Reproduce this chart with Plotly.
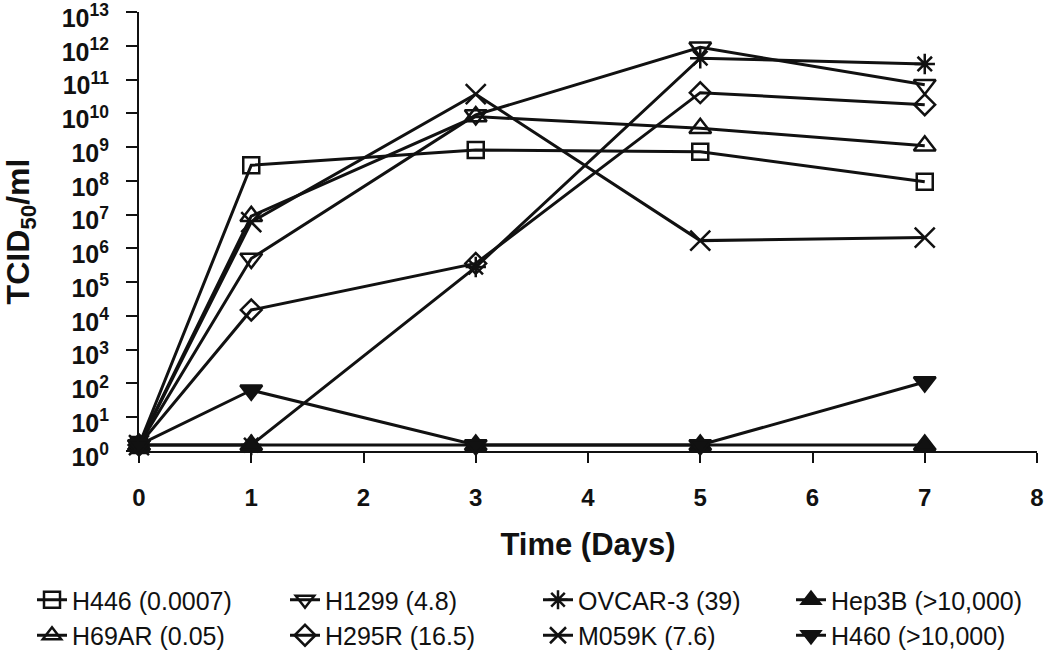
import plotly.graph_objects as go

days = [0, 1, 3, 5, 7]

series_names = [
    "H446 (0.0007)", "H1299 (4.8)", "OVCAR-3 (39)", "Hep3B (>10,000)",
    "H69AR (0.05)", "H295R (16.5)", "M059K (7.6)", "H460 (>10,000)",
]

h446 = [1.5, 2.9e8, 8.2e8, 7.3e8, 9.4e7]
h1299 = [1.5, 5.0e5, 9.0e9, 9.0e11, 7.0e10]
ovcar3 = [1.5, 1.5, 2.8e5, 4.3e11, 2.9e11]
hep3b = [1.5, 1.5, 1.5, 1.5, 1.5]
h69ar = [1.5, 9.0e6, 8.0e9, 3.6e9, 1.1e9]
h295r = [1.5, 1.5e4, 3.6e5, 4.1e10, 1.8e10]
m059k = [1.5, 6.0e6, 3.7e10, 1.7e6, 2.1e6]
h460 = [1.5, 63, 1.5, 1.5, 110]

series_values = [h446, h1299, ovcar3, hep3b, h69ar, h295r, m059k, h460]

symbols = [
    "square-open", "triangle-down-open", "asterisk-open", "triangle-up",
    "triangle-up-open", "diamond-open", "x-thin-open", "triangle-down",
]
sizes = [16, 19, 17, 19, 19, 16, 20, 19]

y_tick_vals = [10 ** k for k in range(0, 14)]
y_tick_text = ["10<sup>%d</sup>" % k for k in range(0, 14)]
x_tick_vals = list(range(0, 9))

INK = "#111111"
FONT = "Liberation Sans, Arial, sans-serif"

W, H = 1050, 654
ML, MR, MT, MB = 139, 13, 12, 203
PW = W - ML - MR
PH = H - MT - MB

fig = go.Figure()
for name, vals, sym, sz in zip(series_names, series_values, symbols, sizes):
    fig.add_trace(go.Scatter(
        x=days, y=vals, name=name, mode="lines+markers",
        line=dict(color=INK, width=3),
        marker=dict(symbol=sym, size=sz, color=INK,
                    line=dict(color=INK, width=2.5)),
        cliponaxis=False,
    ))

fig.update_layout(
    width=W, height=H,
    paper_bgcolor="white", plot_bgcolor="white",
    margin=dict(l=ML, r=MR, t=MT, b=MB, autoexpand=False),
    font=dict(family=FONT, color=INK),
    showlegend=True,
    legend=dict(
        orientation="h", xref="paper", yref="paper",
        x=(32 - ML) / PW, y=-(577 - (H - MB)) / PH,
        xanchor="left", yanchor="top",
        entrywidth=208, entrywidthmode="pixels",
        font=dict(size=25, family=FONT, color=INK),
        itemwidth=30, tracegroupgap=0, bgcolor="rgba(0,0,0,0)",
    ),
    xaxis=dict(
        range=[0, 8], tickvals=x_tick_vals, showgrid=False, zeroline=False,
        automargin=False,
        showline=True, linecolor=INK, linewidth=2,
        ticks="outside", ticklen=10, tickwidth=2, tickcolor=INK,
        ticklabelstandoff=14, ticklabeloverflow="allow",
        tickfont=dict(size=24, family=FONT, color=INK, weight="bold"),
        title=dict(text="Time (Days)", standoff=24,
                   font=dict(size=31, family=FONT, color=INK, weight="bold")),
    ),
    yaxis=dict(
        type="log", range=[-0.001, 13.002], tickvals=y_tick_vals, ticktext=y_tick_text,
        showgrid=False, zeroline=False, automargin=False,
        showline=True, linecolor=INK, linewidth=2,
        ticks="outside", ticklen=11, tickwidth=2, tickcolor=INK,
        ticklabelstandoff=12, ticklabelshift=6, ticklabeloverflow="allow",
        tickfont=dict(size=25, family=FONT, color=INK, weight="bold"),
        title=dict(text="TCID<sub>50</sub>/ml", standoff=29,
                   font=dict(size=32, family=FONT, color=INK, weight="bold")),
    ),
)

# remove the default 8px page margin so the figure fills the window exactly
fig.write_html("out.html", config={"displayModeBar": False},
               post_script="document.body.style.margin='0';")
